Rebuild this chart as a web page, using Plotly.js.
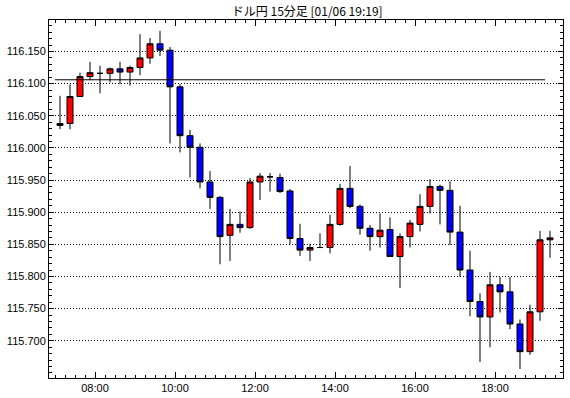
<!DOCTYPE html>
<html>
<head>
<meta charset="utf-8">
<script src="https://cdn.plot.ly/plotly-3.0.1.min.js"></script>
<style>html,body{margin:0;padding:0;background:#fff;}#chart{width:570px;height:398px;}</style>
</head>
<body>
<div id="chart"></div>
<script>
const chartDate = "2022-01-06";
const titleText = "ドル円 15分足 [01/06 19:19]";
const times = ["07:00","07:15","07:30","07:45","08:00","08:15","08:30","08:45","09:00","09:15",
  "09:30","09:45","10:00","10:15","10:30","10:45","11:00","11:15","11:30","11:45",
  "12:00","12:15","12:30","12:45","13:00","13:15","13:30","13:45","14:00","14:15",
  "14:30","14:45","15:00","15:15","15:30","15:45","16:00","16:15","16:30","16:45",
  "17:00","17:15","17:30","17:45","18:00","18:15","18:30","18:45","19:00","19:15"];
const open = [116.035,116.038,116.080,116.111,116.116,116.116,116.123,116.118,116.125,116.140,
  116.162,116.152,116.095,116.019,116.001,115.947,115.923,115.864,115.881,115.876,
  115.947,115.955,115.954,115.933,115.859,115.841,115.845,115.845,115.881,115.937,
  115.909,115.875,115.862,115.873,115.831,115.862,115.881,115.909,115.940,115.934,
  115.869,115.810,115.761,115.737,115.787,115.776,115.726,115.683,115.745,115.857];
const high = [116.081,116.099,116.117,116.134,116.128,116.125,116.134,116.128,116.177,116.171,
  116.182,116.157,116.099,116.028,116.007,115.964,115.925,115.905,115.901,115.953,
  115.961,115.961,115.960,115.936,115.882,115.851,115.867,115.896,115.944,115.972,
  115.912,115.880,115.898,115.892,115.867,115.888,115.928,115.951,115.943,115.948,
  115.910,115.840,115.774,115.807,115.799,115.799,115.733,115.756,115.871,115.871];
const low = [116.029,116.029,116.080,116.106,116.085,116.102,116.099,116.097,116.113,116.131,
  116.143,116.007,115.993,115.954,115.937,115.905,115.819,115.824,115.868,115.874,
  115.919,115.932,115.930,115.850,115.832,115.824,115.845,115.836,115.879,115.906,
  115.865,115.840,115.845,115.831,115.782,115.845,115.870,115.898,115.881,115.849,
  115.799,115.738,115.667,115.690,115.744,115.718,115.656,115.678,115.731,115.829];
const close = [116.038,116.080,116.111,116.117,116.116,116.123,116.118,116.125,116.140,116.162,
  116.152,116.095,116.019,116.001,115.947,115.923,115.862,115.881,115.876,115.947,
  115.956,115.955,115.932,115.859,115.841,115.845,115.845,115.881,115.937,115.909,
  115.875,115.862,115.872,115.831,115.862,115.883,115.909,115.940,115.934,115.869,
  115.810,115.761,115.737,115.787,115.776,115.726,115.683,115.745,115.857,115.860];
const yTickVals = [115.700,115.750,115.800,115.850,115.900,115.950,116.000,116.050,116.100,116.150];
const refLevel = 116.106;
const xRange = ["06:51","19:42"];
const yRange = [115.642, 116.199];

const xs = times.map(t => chartDate + " " + t);

const trace = {
  type: "candlestick",
  x: xs, open: open, high: high, low: low, close: close,
  xperiod: 15 * 60 * 1000,
  xperiodalignment: "middle",
  increasing: {line: {color: "#000000", width: 1}, fillcolor: "#ff0000"},
  decreasing: {line: {color: "#000000", width: 1}, fillcolor: "#0000ff"},
  whiskerwidth: 0,
  hoverinfo: "skip",
  showlegend: false
};

const layout = {
  width: 570, height: 398,
  margin: {l: 49, r: 7, t: 20, b: 20, pad: 0},
  paper_bgcolor: "#ffffff", plot_bgcolor: "#ffffff",
  showlegend: false,
  boxgap: 0.4, boxgroupgap: 0,
  font: {family: "Liberation Sans, Arial, sans-serif", size: 11, color: "#000"},
  title: {
    text: titleText,
    font: {family: "Noto Sans CJK JP", size: 12, color: "#000"},
    x: 0.539, xanchor: "center", xref: "container",
    y: 1 - 12/398, yanchor: "middle", yref: "container"
  },
  xaxis: {
    type: "date",
    range: xRange.map(t => chartDate + " " + t),
    rangeslider: {visible: false},
    showgrid: false, zeroline: false,
    showline: true, linecolor: "#000", linewidth: 1, mirror: "allticks",
    ticks: "inside", ticklen: 6, tickcolor: "#000", tickwidth: 1,
    tick0: chartDate + " 00:00", dtick: 2 * 3600 * 1000,
    tickformat: "%H:%M",
    tickfont: {family: "Liberation Sans, Arial, sans-serif", size: 11, color: "#000"},
    minor: {ticks: "inside", ticklen: 3, tickcolor: "#000", dtick: 15 * 60 * 1000, tick0: chartDate + " 00:00", showgrid: false},
    fixedrange: true
  },
  yaxis: {
    range: yRange,
    showgrid: true, gridcolor: "#000", gridwidth: 1, griddash: "1px,2px",
    zeroline: false,
    showline: true, linecolor: "#000", linewidth: 1, mirror: "allticks",
    ticks: "inside", ticklen: 5, tickcolor: "#000", tickwidth: 1,
    tickmode: "array", tickvals: yTickVals, ticktext: yTickVals.map(v => v.toFixed(3)),
    tickfont: {family: "Liberation Sans, Arial, sans-serif", size: 11, color: "#000"},
    minor: {ticks: "inside", ticklen: 3, tickcolor: "#000", tickmode: "linear", dtick: 0.01, tick0: 116.0, showgrid: false},
    fixedrange: true
  },
  shapes: [{
    type: "line", xref: "x", yref: "y",
    x0: xs[0], x1: xs[xs.length - 1], y0: refLevel, y1: refLevel,
    line: {color: "#000", width: 1}, layer: "above"
  }]
};

Plotly.newPlot("chart", [trace], layout, {staticPlot: true, displayModeBar: false});
</script>
</body>
</html>
